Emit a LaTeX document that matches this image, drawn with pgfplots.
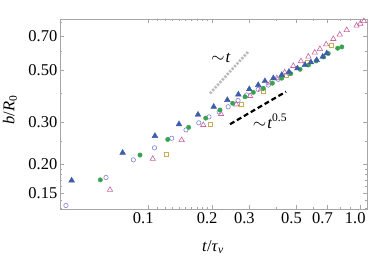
\documentclass[border=0pt]{standalone}
\usepackage{fontspec}
\setmainfont{Liberation Serif}
\usepackage{pgfplots}
\pgfplotsset{compat=1.18}
\definecolor{cblue}{HTML}{3E5CA8}
\definecolor{cgreen}{HTML}{38A34F}
\definecolor{copen}{HTML}{8080D8}
\definecolor{cpink}{HTML}{C864A0}
\definecolor{cyel}{HTML}{C8AA5A}
\begin{document}
\fontsize{16.5}{19}\selectfont
\begin{tikzpicture}
\path[use as bounding box] (0,0) rectangle (374pt,255pt);
\begin{axis}[
  at={(60pt,46pt)}, anchor=south west,
  scale only axis, width=307pt, height=190pt,
  xmode=log, ymode=log,
  xmin=0.03834, xmax=1.0755, ymin=0.1285, ymax=0.8268,
  xtick={0.1,0.2,0.3,0.5,0.7,1.0},
  xticklabels={0.1,0.2,0.3,0.5,0.7,1.0},
  minor xtick={0.11,0.12,0.13,0.14,0.15,0.16,0.17,0.18,0.19,0.4,0.6,0.8,0.9},
  ytick={0.15,0.2,0.3,0.5,0.7},
  yticklabels={0.15,0.20,0.30,0.50,0.70},
  minor ytick={0.13,0.14,0.16,0.17,0.18,0.19,0.25,0.4,0.6,0.8},
  /pgf/number format/assume math mode=true,
  tick align=inside,
  major tick length=4pt, minor tick length=2pt,
  tick style={gray!70, line width=0.5pt},
  axis line style={gray!70, line width=0.6pt},
  xticklabel style={font=\fontsize{16.5}{19}\selectfont, xshift=-5pt, inner sep=3pt},
  yticklabel style={font=\fontsize{16.5}{19}\selectfont, inner sep=2.5pt},
  xlabel={\textit{t}/\textit{τ}\textsubscript{\textit{v}}},
  ylabel={\textit{b}/\textit{R}\textsubscript{0}},
  xlabel style={at={(axis description cs:0.498,-0.20)}, anchor=center, font=\fontsize{16.5}{19}\selectfont},
  ylabel style={at={(axis description cs:-0.163,0.52)}, anchor=center, font=\fontsize{16.5}{19}\selectfont},
  clip=false,
]
% guide lines
\addplot[gray!55, line width=2.6pt, dash pattern=on 2.2pt off 1.4pt] coordinates {(0.1955,0.399) (0.296,0.600)};
\addplot[black, line width=2.2pt, dash pattern=on 5pt off 3pt] coordinates {(0.243,0.295) (0.446,0.4056)};
\node at (axis cs:0.22,0.564) {$\sim$\kern1pt\textit{t}};
\node at (axis cs:0.375,0.304) {$\sim$\kern1pt\textit{t}\textsuperscript{0.5}};
% open squares
\addplot[only marks, mark=square, mark size=2pt, cyel, mark options={line width=0.6pt}] coordinates {
(0.121,0.220) (0.197,0.295) (0.2736,0.358) (0.349,0.408) (0.45,0.478) (0.56,0.54) (0.728,0.641)};
% open circles
\addplot[only marks, mark=o, mark size=2.2pt, copen, mark options={line width=0.6pt}] coordinates {
(0.0409,0.133) (0.0632,0.175) (0.085,0.208) (0.107,0.234) (0.129,0.257) (0.1506,0.279)
(0.173,0.299) (0.1933,0.317) (0.216,0.333) (0.238,0.350) (0.265,0.372) (0.291,0.393)
(0.33,0.415) (0.368,0.433) (0.41,0.458) (0.46,0.485)};
% pink open triangles
\addplot[only marks, mark=triangle, mark size=3.1pt, cpink, mark options={line width=0.6pt}] coordinates {
(0.066,0.155) (0.105,0.210) (0.1437,0.2525) (0.1817,0.2927) (0.2203,0.326) (0.26,0.358)
(0.302,0.389) (0.34,0.415) (0.375,0.44) (0.404,0.463) (0.44,0.49) (0.483,0.522)
(0.525,0.547) (0.569,0.572) (0.61,0.595) (0.645,0.616) (0.69,0.645) (0.746,0.680)
(0.80,0.71) (0.863,0.742) (0.96,0.775) (1.0,0.79) (1.04,0.81)};
% green filled circles
\addplot[only marks, mark=*, mark size=2.2pt, cgreen] coordinates {
(0.0594,0.171) (0.0914,0.218) (0.1235,0.254) (0.155,0.286) (0.1866,0.313) (0.218,0.339)
(0.250,0.362) (0.286,0.386) (0.313,0.403) (0.349,0.419) (0.385,0.441) (0.426,0.463)
(0.47,0.484) (0.52,0.505) (0.57,0.527) (0.62,0.548) (0.67,0.57) (0.706,0.590)
(0.782,0.621) (0.818,0.629)};
% blue filled triangles
\addplot[only marks, mark=triangle*, mark size=3.3pt, cblue] coordinates {
(0.0435,0.170) (0.0757,0.223) (0.1075,0.263) (0.1396,0.295) (0.1716,0.324) (0.2035,0.350)
(0.236,0.374) (0.266,0.395) (0.2995,0.416) (0.330,0.433) (0.355,0.450) (0.389,0.463)
(0.426,0.478) (0.461,0.493) (0.505,0.510) (0.548,0.527) (0.585,0.541) (0.623,0.553)
(0.665,0.572) (0.695,0.591)};
\end{axis}
\end{tikzpicture}
\end{document}
